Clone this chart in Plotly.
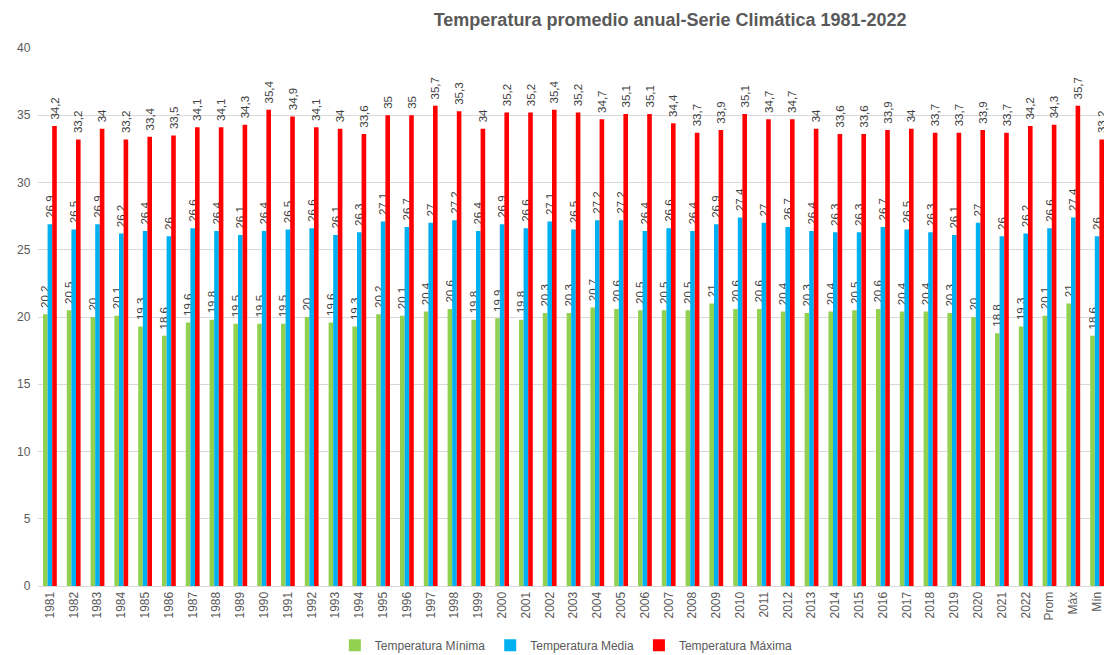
import plotly.graph_objects as go

# Categories: annual series plus summary columns
categorias = [str(a) for a in range(1981, 2023)] + ["Prom", "Máx", "Mín"]

temp_minima = [20.2, 20.5, 20, 20.1, 19.3, 18.6, 19.6, 19.8, 19.5, 19.5,
               19.5, 20, 19.6, 19.3, 20.2, 20.1, 20.4, 20.6, 19.8, 19.9,
               19.8, 20.3, 20.3, 20.7, 20.6, 20.5, 20.5, 20.5, 21, 20.6,
               20.6, 20.4, 20.3, 20.4, 20.5, 20.6, 20.4, 20.4, 20.3, 20,
               18.8, 19.3, 20.1, 21, 18.6]

temp_media = [26.9, 26.5, 26.9, 26.2, 26.4, 26, 26.6, 26.4, 26.1, 26.4,
              26.5, 26.6, 26.1, 26.3, 27.1, 26.7, 27, 27.2, 26.4, 26.9,
              26.6, 27.1, 26.5, 27.2, 27.2, 26.4, 26.6, 26.4, 26.9, 27.4,
              27, 26.7, 26.4, 26.3, 26.3, 26.7, 26.5, 26.3, 26.1, 27,
              26, 26.2, 26.6, 27.4, 26]

temp_maxima = [34.2, 33.2, 34, 33.2, 33.4, 33.5, 34.1, 34.1, 34.3, 35.4,
               34.9, 34.1, 34, 33.6, 35, 35, 35.7, 35.3, 34, 35.2,
               35.2, 35.4, 35.2, 34.7, 35.1, 35.1, 34.4, 33.7, 33.9, 35.1,
               34.7, 34.7, 34, 33.6, 33.6, 33.9, 34, 33.7, 33.7, 33.9,
               33.7, 34.2, 34.3, 35.7, 33.2]

series = [
    ("Temperatura Mínima", temp_minima, "#92D050"),
    ("Temperatura Media", temp_media, "#00B0F0"),
    ("Temperatura Máxima", temp_maxima, "#FF0000"),
]

FUENTE = "Liberation Sans, Arial, sans-serif"


def etiqueta(v):
    # decimal comma; leading no-break spaces lift the rotated label off the bar
    return "\u00a0\u00a0" + f"{v:g}".replace(".", ",")


fig = go.Figure()
for nombre, valores, color in series:
    fig.add_trace(go.Bar(
        name=nombre,
        x=categorias,
        y=valores,
        marker=dict(color=color, line=dict(width=0)),
        text=[etiqueta(v) for v in valores],
        textposition="outside",
        textangle=-90,
        constraintext="none",
        cliponaxis=False,
        textfont=dict(family=FUENTE, size=11.5, color="#404040"),
        hoverinfo="x+y+name",
    ))

fig.update_layout(
    width=1104,
    height=655,
    barmode="group",
    bargap=0.42,
    bargroupgap=0,
    paper_bgcolor="white",
    plot_bgcolor="white",
    margin=dict(l=38, r=0, t=48, b=69),
    font=dict(family=FUENTE, color="#595959"),
    title=dict(
        text="<b>Temperatura promedio anual-Serie Climática 1981-2022</b>",
        x=0.607, xref="container", xanchor="center",
        y=0.97, yref="container", yanchor="middle",
        font=dict(family=FUENTE, size=18, color="#595959"),
    ),
    legend=dict(
        orientation="h",
        xref="container", x=0.513, xanchor="center",
        yref="container", y=0.015, yanchor="middle",
        font=dict(size=12, color="#595959"),
        itemwidth=30,
        traceorder="normal",
    ),
    showlegend=True,
)

fig.update_xaxes(
    type="category",
    range=[-0.5, 44.29],
    tickangle=-90,
    tickfont=dict(size=12, color="#595959"),
    showline=True,
    linecolor="#D9D9D9",
    linewidth=1,
    showgrid=False,
    ticks="",
)

fig.update_yaxes(
    range=[0, 40],
    dtick=5,
    tickfont=dict(size=12, color="#595959"),
    showgrid=True,
    gridcolor="#D9D9D9",
    gridwidth=1,
    zeroline=False,
    showline=False,
    ticks="",
    ticksuffix="  ",
)

fig.write_html("out.html")
